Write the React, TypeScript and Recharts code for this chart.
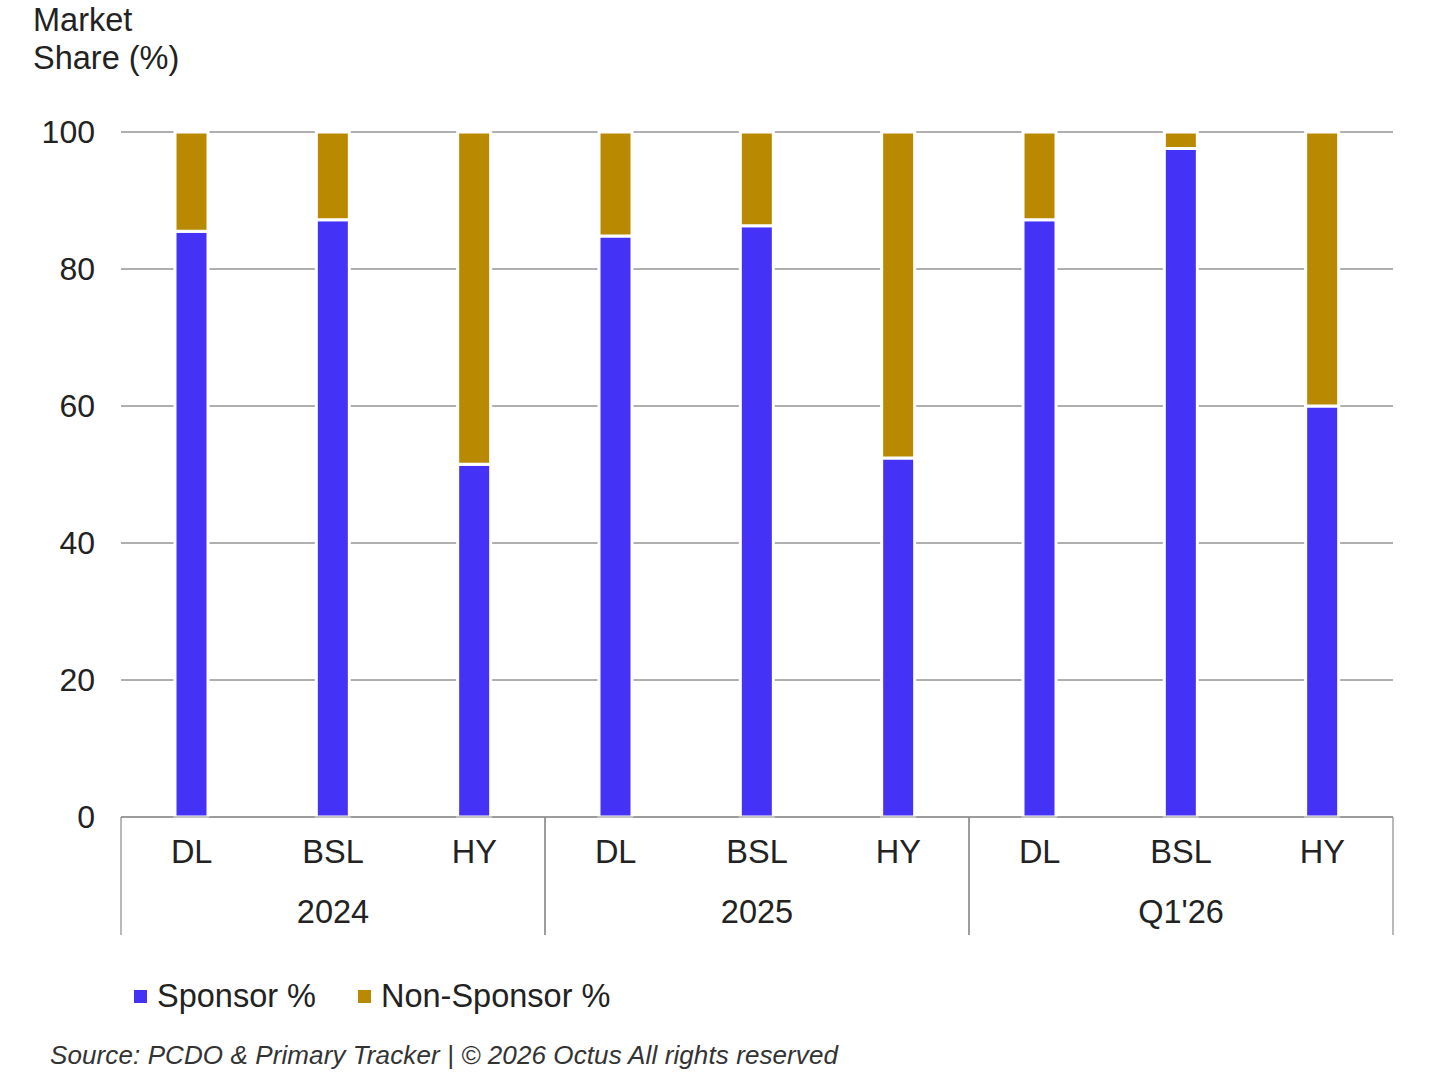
import React from "react";
import { BarChart, Bar, XAxis, YAxis, CartesianGrid } from "recharts";

const categories = ["DL", "BSL", "HY", "DL", "BSL", "HY", "DL", "BSL", "HY"];
const groups = ["2024", "2024", "2024", "2025", "2025", "2025", "Q1'26", "Q1'26", "Q1'26"];
const sponsor = [85.5, 87.2, 51.5, 84.8, 86.3, 52.4, 87.2, 97.6, 60.0];
const nonSponsor = [14.5, 12.8, 48.5, 15.2, 13.7, 47.6, 12.8, 2.4, 40.0];
const yTicks = [0, 20, 40, 60, 80, 100];

const SPONSOR_COLOR = "#4433F6";
const NON_SPONSOR_COLOR = "#BA8902";
const TEXT_COLOR = "#222222";
const FONT = "'Liberation Sans', Arial, sans-serif";

const data = categories.map((c, i) => ({
  key: `${groups[i]}-${c}-${i}`,
  cat: c,
  group: groups[i],
  sponsor: sponsor[i],
  nonSponsor: nonSponsor[i],
}));

const AXIS_HEIGHT = 118;

const XTick = (props: any) => {
  const { x, y, payload, index } = props;
  const i = payload.index ?? index;
  const half = payload.offset ?? 0;
  const g = groups[i];
  const isFirst = i === 0 || groups[i - 1] !== g;
  const isLast = i === groups.length - 1 || groups[i + 1] !== g;
  const groupIdx = groups.map((gg, k) => (gg === g ? k : -1)).filter((k) => k >= 0);
  const isMiddle = groupIdx[Math.floor(groupIdx.length / 2)] === i;
  return (
    <g>
      <text
        x={x}
        y={y + 37}
        textAnchor="middle"
        fontSize={32.5}
        fill={TEXT_COLOR}
        fontFamily={FONT}
        dominantBaseline="middle"
      >
        {categories[i]}
      </text>
      {isMiddle && (
        <text
          x={x}
          y={y + 97}
          textAnchor="middle"
          fontSize={32.5}
          fill={TEXT_COLOR}
          fontFamily={FONT}
          dominantBaseline="middle"
        >
          {g}
        </text>
      )}
      {isFirst && (
        <line x1={x - half} x2={x - half} y1={y} y2={y + AXIS_HEIGHT} stroke="#8a8a8a" strokeWidth={1.2} />
      )}
      {isLast && (
        <line x1={x + half} x2={x + half} y1={y} y2={y + AXIS_HEIGHT} stroke="#8a8a8a" strokeWidth={1.2} />
      )}
    </g>
  );
};

const LegendItem = ({ color, label }: { color: string; label: string }) => (
  <div style={{ display: "flex", alignItems: "center", marginRight: 42 }}>
    <div style={{ width: 13, height: 13, background: color, marginRight: 10 }} />
    <span style={{ fontSize: 32.5, color: TEXT_COLOR, fontFamily: FONT }}>{label}</span>
  </div>
);

export default function App() {
  return (
    <div
      style={{
        position: "absolute",
        left: 0,
        top: 0,
        width: 1443,
        height: 1080,
        background: "#ffffff",
        overflow: "hidden",
        fontFamily: FONT,
      }}
    >
      <div
        style={{
          position: "absolute",
          left: 33,
          top: 1,
          fontSize: 32.5,
          lineHeight: "38px",
          color: TEXT_COLOR,
        }}
      >
        Market
        <br />
        Share (%)
      </div>
      <BarChart
        width={1443}
        height={1080}
        data={data}
        margin={{ top: 132, right: 50, left: 0, bottom: 1080 - 817 - AXIS_HEIGHT }}
        barSize={33}
      >
        <CartesianGrid vertical={false} stroke="#5e5e5e" strokeWidth={1} />
        <XAxis
          dataKey="key"
          height={AXIS_HEIGHT}
          interval={0}
          tickLine={false}
          tickSize={0}
          tickMargin={0}
          axisLine={{ stroke: "#8a8a8a", strokeWidth: 1.2 }}
          tick={<XTick />}
        />
        <YAxis
          width={121}
          domain={[0, 100]}
          ticks={yTicks}
          tickLine={false}
          axisLine={false}
          tickSize={0}
          tickMargin={26}
          tick={{ fontSize: 32, fill: TEXT_COLOR, fontFamily: FONT }}
        />
        <Bar
          dataKey="sponsor"
          stackId="a"
          fill={SPONSOR_COLOR}
          stroke="#ffffff"
          strokeWidth={3}
          isAnimationActive={false}
        />
        <Bar
          dataKey="nonSponsor"
          stackId="a"
          fill={NON_SPONSOR_COLOR}
          stroke="#ffffff"
          strokeWidth={3}
          isAnimationActive={false}
        />
      </BarChart>
      <div
        style={{
          position: "absolute",
          left: 134,
          top: 978,
          display: "flex",
          alignItems: "center",
        }}
      >
        <LegendItem color={SPONSOR_COLOR} label="Sponsor %" />
        <LegendItem color={NON_SPONSOR_COLOR} label="Non-Sponsor %" />
      </div>
      <div
        style={{
          position: "absolute",
          left: 50,
          top: 1040,
          fontSize: 26,
          fontStyle: "italic",
          color: "#333333",
          letterSpacing: 0.1,
        }}
      >
        Source: PCDO &amp; Primary Tracker | © 2026 Octus All rights reserved
      </div>
    </div>
  );
}
